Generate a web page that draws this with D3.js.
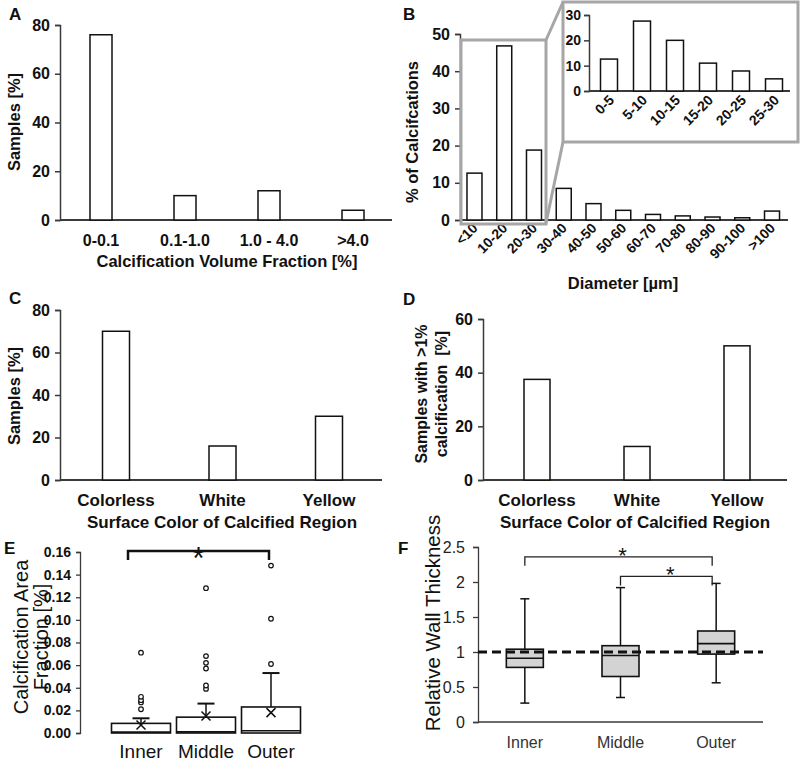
<!DOCTYPE html>
<html><head><meta charset="utf-8">
<script src="https://cdn.jsdelivr.net/npm/d3@7"></script>
<style>
html,body{margin:0;padding:0;background:#fff;}
svg{display:block;font-family:"Liberation Sans",Arial,sans-serif;}
</style></head>
<body>
<svg id="fig" width="800" height="761"></svg>
<script>
// ---------- data ----------
const aCategories = ["0-0.1", "0.1-1.0", "1.0 - 4.0", ">4.0"];
const aValues = [76, 10, 12, 4];
const aTicks = [0, 20, 40, 60, 80];

const bCategories = ["<10", "10-20", "20-30", "30-40", "40-50", "50-60", "60-70", "70-80", "80-90", "90-100", ">100"];
const bValues = [12.6, 46.8, 18.8, 8.5, 4.4, 2.6, 1.5, 1.1, 0.8, 0.6, 2.4];
const bTicks = [0, 10, 20, 30, 40, 50];

const insetCategories = ["0-5", "5-10", "10-15", "15-20", "20-25", "25-30"];
const insetValues = [12.6, 27.6, 20, 11, 7.9, 4.8];
const insetTicks = [0, 10, 20, 30];

const colorCategories = ["Colorless", "White", "Yellow"];
const cValues = [70, 16, 30];
const cTicks = [0, 20, 40, 60, 80];
const dValues = [37.5, 12.5, 50];
const dTicks = [0, 20, 40, 60];

const regions = ["Inner", "Middle", "Outer"];
const eQ1 = [0, 0, 0];
const eMedian = [0.0008, 0.001, 0.002];
const eQ3 = [0.0085, 0.014, 0.023];
const eWhiskerHigh = [0.013, 0.026, 0.053];
const eMean = [0.007, 0.015, 0.018];
const eOutliers = [
  [0.021, 0.027, 0.029, 0.032, 0.071],
  [0.039, 0.042, 0.057, 0.062, 0.068, 0.128],
  [0.061, 0.101, 0.148]
];
const eTicks = [0, 0.02, 0.04, 0.06, 0.08, 0.10, 0.12, 0.14, 0.16];

const fMin = [0.27, 0.35, 0.56];
const fQ1 = [0.78, 0.65, 0.97];
const fMedian = [0.91, 0.95, 1.12];
const fQ3 = [1.04, 1.09, 1.30];
const fMax = [1.76, 1.92, 1.98];
const fTicks = [0, 0.5, 1, 1.5, 2, 2.5];
const fTickLabels = ["0", "0.5", "1", "1.5", "2", "2.5"];

// ---------- helpers ----------
const svg = d3.select("#fig");
const AX = "#3a3a3a";

function barChart(o) {
  const g = svg.append("g");
  const x = d3.scaleBand().domain(o.categories).range(o.xRange).padding(0);
  const y = d3.scaleLinear().domain([0, o.yMax]).range(o.yRange);
  const ya = d3.axisLeft(y).tickValues(o.ticks).tickSize(o.tickLen || 5).tickPadding(o.tickPad || 5);
  const yg = g.append("g").attr("transform", `translate(${o.axisX},0)`).call(ya);
  yg.select(".domain").attr("stroke", AX).attr("stroke-width", 1.5);
  yg.selectAll(".tick line").attr("stroke", AX).attr("stroke-width", 1.5);
  yg.selectAll(".tick text").attr("fill", "#111").attr("font-size", o.tickFont || 16)
    .attr("font-weight", "bold").attr("font-family", '"Liberation Sans",Arial,sans-serif');
  g.append("line").attr("x1", o.axisX).attr("x2", o.axisEnd)
    .attr("y1", y(0)).attr("y2", y(0)).attr("stroke", AX).attr("stroke-width", 1.8);
  g.selectAll("rect.bar").data(o.values).join("rect").attr("class", "bar")
    .attr("x", (d, i) => x(o.categories[i]) + x.bandwidth() / 2 - o.barW / 2)
    .attr("width", o.barW)
    .attr("y", d => y(d)).attr("height", d => y(0) - y(d))
    .attr("fill", "#fff").attr("stroke", "#111").attr("stroke-width", 1.5);
  const lab = g.selectAll("text.cat").data(o.categories).join("text").attr("class", "cat")
    .attr("font-size", o.catFont || 16).attr("font-weight", "bold").attr("fill", "#111").text(d => d);
  if (o.rotate) {
    lab.attr("text-anchor", "end")
      .attr("transform", d => `translate(${x(d) + x.bandwidth() / 2 + o.rotDx},${o.catY}) rotate(-45)`);
  } else {
    lab.attr("text-anchor", "middle").attr("x", d => x(d) + x.bandwidth() / 2).attr("y", o.catY);
  }
  return {x, y, g};
}

function txt(x, y, s, size, weight, anchor, rot) {
  const t = svg.append("text").attr("font-size", size).attr("font-weight", weight || "normal")
    .attr("fill", "#111").attr("text-anchor", anchor || "middle").text(s);
  if (rot) t.attr("transform", `translate(${x},${y}) rotate(${rot})`);
  else t.attr("x", x).attr("y", y);
  return t;
}

// ---------- Panel A ----------
barChart({categories: aCategories, values: aValues, ticks: aTicks, yMax: 80,
  xRange: [59, 395], yRange: [220, 25], axisX: 60, axisEnd: 392, barW: 22, catY: 246});
txt(227, 267, "Calcification Volume Fraction [%]", 16.5, "bold");
txt(20, 122, "Samples [%]", 16.5, "bold", "middle", -90);
txt(9, 20, "A", 17, "bold", "start");

// ---------- Panel B ----------
const gray = "#a6a6a6";
barChart({categories: bCategories, values: bValues, ticks: bTicks, yMax: 50,
  xRange: [459.6, 786.9], yRange: [220, 34], axisX: 460, axisEnd: 788, barW: 15,
  catY: 229, rotate: true, rotDx: 4, catFont: 14});
svg.append("rect").attr("x", 461).attr("y", 40).attr("width", 85).attr("height", 184)
  .attr("fill", "none").attr("stroke", gray).attr("stroke-width", 3);
svg.append("line").attr("x1", 546).attr("y1", 40).attr("x2", 563).attr("y2", 2).attr("stroke", gray).attr("stroke-width", 3);
svg.append("line").attr("x1", 546).attr("y1", 223).attr("x2", 563).attr("y2", 142).attr("stroke", gray).attr("stroke-width", 3);
svg.append("rect").attr("x", 563).attr("y", 2).attr("width", 235).attr("height", 140)
  .attr("fill", "#fff").attr("stroke", gray).attr("stroke-width", 3);
txt(623, 289, "Diameter [µm]", 16.5, "bold");
txt(418, 132, "% of Calcifcations", 16.5, "bold", "middle", -90);
txt(403, 20, "B", 17, "bold", "start");

// inset
barChart({categories: insetCategories, values: insetValues, ticks: insetTicks, yMax: 30,
  xRange: [592.5, 790.5], yRange: [91, 15], axisX: 589, axisEnd: 790, barW: 17,
  catY: 101, rotate: true, rotDx: 6, catFont: 14, tickFont: 14, tickLen: 5, tickPad: 3});

// ---------- Panel C ----------
barChart({categories: colorCategories, values: cValues, ticks: cTicks, yMax: 80,
  xRange: [62.75, 382.25], yRange: [480, 310], axisX: 60, axisEnd: 382, barW: 27, catY: 506, catFont: 17});
txt(222, 528, "Surface Color of Calcified Region", 17, "bold");
txt(20, 396, "Samples [%]", 16.5, "bold", "middle", -90);
txt(9, 304, "C", 17, "bold", "start");

// ---------- Panel D ----------
barChart({categories: colorCategories, values: dValues, ticks: dTicks, yMax: 60,
  xRange: [487, 787], yRange: [480, 319], axisX: 483, axisEnd: 787, barW: 26, catY: 506, catFont: 17});
txt(635, 528, "Surface Color of Calcified Region", 17, "bold");
txt(427, 394, "Samples with >1%", 16, "bold", "middle", -90);
txt(447, 394, "calcification  [%]", 16, "bold", "middle", -90).style("white-space", "pre");
txt(403, 305, "D", 17, "bold", "start");

// ---------- Panel E ----------
{
  const x = d3.scaleBand().domain(regions).range([108.5, 303.5]).padding(0);
  const y = d3.scaleLinear().domain([0, 0.16]).range([733, 552]);
  const g = svg.append("g");
  const ya = d3.axisLeft(y).tickValues(eTicks).tickFormat(d3.format(".2f")).tickSize(4).tickPadding(5);
  const yg = g.append("g").attr("transform", "translate(80,0)").call(ya);
  yg.select(".domain").attr("stroke", AX).attr("stroke-width", 1.3);
  yg.selectAll(".tick line").attr("stroke", AX).attr("stroke-width", 1.3);
  yg.selectAll(".tick text").attr("fill", "#111").attr("font-size", 14).attr("font-weight", "bold")
    .attr("font-family", '"Liberation Sans",Arial,sans-serif');
  const bw = 59, cap = 17;
  regions.forEach((r, i) => {
    const cx = x(r) + x.bandwidth() / 2;
    g.append("line").attr("x1", cx).attr("x2", cx).attr("y1", y(eQ3[i])).attr("y2", y(eWhiskerHigh[i]))
      .attr("stroke", "#111").attr("stroke-width", 1.5);
    g.append("line").attr("x1", cx - cap / 2).attr("x2", cx + cap / 2).attr("y1", y(eWhiskerHigh[i])).attr("y2", y(eWhiskerHigh[i]))
      .attr("stroke", "#111").attr("stroke-width", 2);
    g.append("rect").attr("x", cx - bw / 2).attr("width", bw).attr("y", y(eQ3[i])).attr("height", y(eQ1[i]) - y(eQ3[i]))
      .attr("fill", "#fff").attr("stroke", "#111").attr("stroke-width", 1.6);
    g.append("line").attr("x1", cx - bw / 2).attr("x2", cx + bw / 2).attr("y1", y(eMedian[i])).attr("y2", y(eMedian[i]))
      .attr("stroke", "#111").attr("stroke-width", 1.6);
    const my = y(eMean[i]), s = 4.5;
    g.append("path").attr("d", `M${cx - s},${my - s}L${cx + s},${my + s}M${cx - s},${my + s}L${cx + s},${my - s}`)
      .attr("stroke", "#111").attr("stroke-width", 1.5).attr("fill", "none");
    g.selectAll(null).data(eOutliers[i]).join("circle")
      .attr("cx", cx).attr("cy", d => y(d)).attr("r", 2.3)
      .attr("fill", "#fff").attr("stroke", "#111").attr("stroke-width", 1.2);
    txt(cx, 758, r, 19, "normal");
  });
  const xa = x("Inner") + x.bandwidth() / 2 - 13, xb = x("Outer") + x.bandwidth() / 2 - 2;
  g.append("path").attr("d", `M${xa},560V551H${xb}V560`).attr("fill", "none").attr("stroke", "#111").attr("stroke-width", 2.5);
  txt((xa + xb) / 2, 569, "*", 32, "normal");
  txt(28, 637, "Calcification Area", 20, "normal", "middle", -90);
  txt(48, 637, "Fraction [%]", 20, "normal", "middle", -90);
  txt(4, 554, "E", 17, "bold", "start");
}

// ---------- Panel F ----------
{
  const x = d3.scaleBand().domain(regions).range([477, 764]).padding(0);
  const y = d3.scaleLinear().domain([0, 2.5]).range([722, 547]);
  const g = svg.append("g");
  const ya = d3.axisLeft(y).tickValues(fTicks).tickFormat((d, i) => fTickLabels[i]).tickSize(5).tickPadding(8);
  const yg = g.append("g").attr("transform", "translate(478,0)").call(ya);
  yg.select(".domain").attr("stroke", AX).attr("stroke-width", 1.3);
  yg.selectAll(".tick line").attr("stroke", AX).attr("stroke-width", 1.3);
  yg.selectAll(".tick text").attr("fill", "#222").attr("font-size", 16)
    .attr("font-family", '"Liberation Sans",Arial,sans-serif');
  g.append("line").attr("x1", 478).attr("x2", 763).attr("y1", y(0)).attr("y2", y(0)).attr("stroke", AX).attr("stroke-width", 1.3);
  const bw = 37, cap = 9;
  const centers = regions.map(r => x(r) + x.bandwidth() / 2);
  regions.forEach((r, i) => {
    const cx = centers[i];
    g.append("line").attr("x1", cx).attr("x2", cx).attr("y1", y(fMax[i])).attr("y2", y(fMin[i]))
      .attr("stroke", "#111").attr("stroke-width", 1.5);
    [fMax[i], fMin[i]].forEach(v => g.append("line").attr("x1", cx - cap / 2).attr("x2", cx + cap / 2)
      .attr("y1", y(v)).attr("y2", y(v)).attr("stroke", "#111").attr("stroke-width", 1.5));
    g.append("rect").attr("x", cx - bw / 2).attr("width", bw).attr("y", y(fQ3[i])).attr("height", y(fQ1[i]) - y(fQ3[i]))
      .attr("fill", "#d3d3d3").attr("stroke", "#111").attr("stroke-width", 1.6);
    g.append("line").attr("x1", cx - bw / 2).attr("x2", cx + bw / 2).attr("y1", y(fMedian[i])).attr("y2", y(fMedian[i]))
      .attr("stroke", "#111").attr("stroke-width", 1.6);
    txt(cx, 748, r, 16, "normal").attr("fill", "#333");
  });
  g.append("line").attr("x1", 478).attr("x2", 763).attr("y1", y(1)).attr("y2", y(1))
    .attr("stroke", "#111").attr("stroke-width", 3).attr("stroke-dasharray", "9,5");
  const b1 = y(2.36), b2 = y(2.08);
  g.append("path").attr("d", `M${centers[0]},${b1 + 9}V${b1}H${centers[2] - 4}V${b1 + 9}`).attr("fill", "none").attr("stroke", "#222").attr("stroke-width", 1.3);
  g.append("path").attr("d", `M${centers[1]},${b2 + 9}V${b2}H${centers[2] - 4}V${b2 + 9}`).attr("fill", "none").attr("stroke", "#222").attr("stroke-width", 1.3);
  txt((centers[0] + centers[2]) / 2 + 2, b1, "*", 22, "normal").attr("dy", 6);
  txt((centers[1] + centers[2]) / 2 + 2, b2, "*", 22, "normal").attr("dy", 6);
  txt(440, 623, "Relative Wall Thickness", 20.5, "normal", "middle", -90);
  txt(398, 554, "F", 17, "bold", "start");
}
</script>
</body></html>
